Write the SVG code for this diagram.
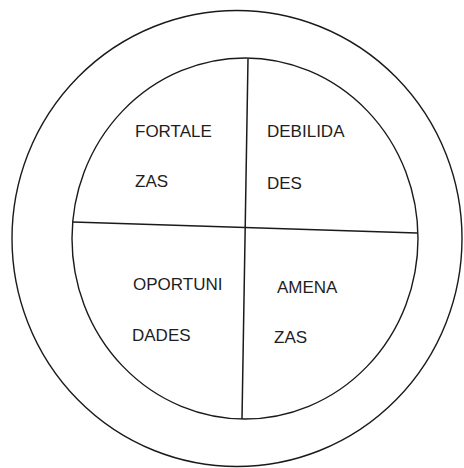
<svg xmlns="http://www.w3.org/2000/svg" width="464" height="468" viewBox="0 0 464 468">
<style>
.ring{fill:none;stroke:#1a1a1a;stroke-width:1.4}
.div{fill:none;stroke:#1a1a1a;stroke-width:1.5}
.lbl{font-family:"Liberation Sans",Arial,sans-serif;font-size:17px;fill:#1e1e1e}
</style>
<rect width="464" height="468" fill="#ffffff"/>
<g id="outer-circle"><ellipse class="ring" cx="237" cy="238.5" rx="225" ry="228"/></g>
<g id="inner-circle"><ellipse class="ring" cx="245" cy="238.5" rx="173" ry="180.5"/></g>
<g id="connectors">
<line class="div" x1="248" y1="59" x2="242" y2="419"/>
<line class="div" x1="73" y1="222" x2="417" y2="233"/>
</g>
<g id="fortalezas"><text class="lbl" x="135" y="137">FORTALE</text><text class="lbl" x="135" y="187">ZAS</text></g>
<g id="debilidades"><text class="lbl" x="267" y="137">DEBILIDA</text><text class="lbl" x="267" y="189">DES</text></g>
<g id="oportunidades"><text class="lbl" x="133" y="290">OPORTUNI</text><text class="lbl" x="132" y="341">DADES</text></g>
<g id="amenazas"><text class="lbl" x="277" y="293">AMENA</text><text class="lbl" x="274" y="343">ZAS</text></g>
</svg>
